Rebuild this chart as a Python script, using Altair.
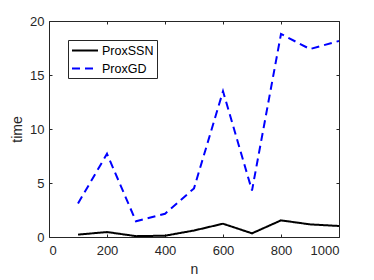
import altair as alt
import pandas as pd

n_vals = [100, 200, 300, 400, 500, 600, 700, 800, 900, 1000]
prox_ssn = [0.22, 0.46, 0.08, 0.12, 0.6, 1.23, 0.34, 1.54, 1.17, 1.02]
prox_gd = [3.1, 7.7, 1.45, 2.15, 4.5, 13.5, 4.3, 18.8, 17.4, 18.15]
series_names = ["ProxSSN", "ProxGD"]
x_ticks = [0, 200, 400, 600, 800, 1000]
y_ticks = [0, 5, 10, 15, 20]

rows = []
for name, vals in zip(series_names, [prox_ssn, prox_gd]):
    for n, v in zip(n_vals, vals):
        rows.append({"n": n, "time": v, "series": name})
df = pd.DataFrame(rows)

FONT = "Liberation Sans"
AX = "#262626"

xs = alt.Scale(domain=[0, 1000], nice=False, zero=False)
ys = alt.Scale(domain=[0, 20], nice=False)

leg = dict(title=None, orient="none", legendX=19, legendY=19,
           symbolType="M-1,0H3", symbolSize=169, symbolStrokeWidth=2,
           labelFont=FONT, labelFontSize=12.5, labelColor="#000000",
           labelOffset=16, strokeColor=AX, fillColor="white",
           padding=3, rowPadding=4)

color = alt.Color("series:N", scale=alt.Scale(domain=series_names, range=["#000000", "#0000ff"]),
                  legend=alt.Legend(**leg))
dash = alt.StrokeDash("series:N", scale=alt.Scale(domain=series_names, range=[[1, 0], [8, 5]]),
                      legend=alt.Legend(**leg))

base = alt.Chart(df)

main = base.mark_line(strokeWidth=2, clip=True).encode(
    x=alt.X("n:Q", scale=xs, axis=alt.Axis(orient="bottom", values=x_ticks, title="n", format="d",
                                           tickSize=3, offset=-3, domain=False, grid=False,
                                           labelPadding=7, titlePadding=5)),
    y=alt.Y("time:Q", scale=ys, axis=alt.Axis(orient="left", values=y_ticks, title="time", format="d",
                                              tickSize=3, offset=-3, domain=False, grid=False,
                                              labelPadding=5, titlePadding=5)),
    color=color,
    strokeDash=dash,
    detail="series:N",
)

ticks2 = base.mark_line(opacity=0).encode(
    x=alt.X("n:Q", scale=xs, axis=alt.Axis(orient="top", values=x_ticks, title=None, labels=False,
                                           tickSize=3, offset=-3, domain=False, grid=False)),
    y=alt.Y("time:Q", scale=ys, axis=alt.Axis(orient="right", values=y_ticks, title=None, labels=False,
                                              tickSize=3, offset=-3, domain=False, grid=False)),
    detail="series:N",
)

chart = alt.layer(main, ticks2).resolve_axis(x="independent", y="independent").properties(
    width=290, height=216,
    background="white",
    autosize=alt.AutoSizeParams(type="none"),
    padding={"left": 41, "top": 13, "right": 27, "bottom": 40},
).configure_view(stroke=AX, strokeWidth=1).configure_axis(
    labelFont=FONT, titleFont=FONT, labelFontSize=13, titleFontSize=14,
    labelColor=AX, titleColor=AX, tickColor=AX, titleFontWeight="normal", tickWidth=1,
)

chart.save("out.html", embed_options={"renderer": "svg", "actions": False})
